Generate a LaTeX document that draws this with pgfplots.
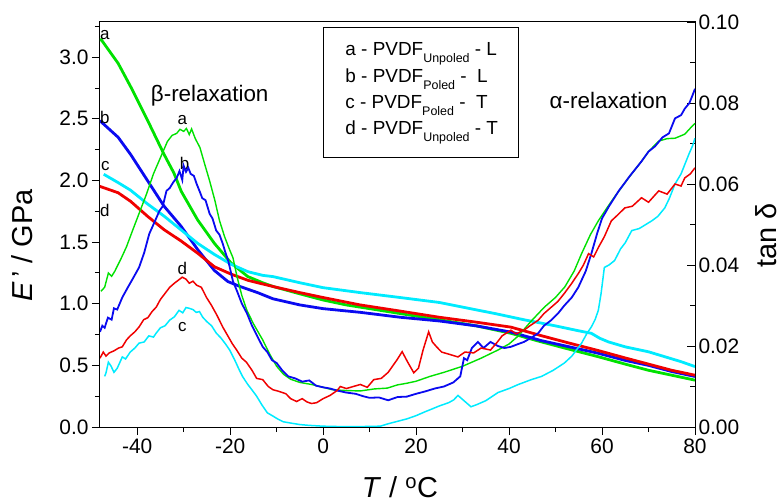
\documentclass[border=0pt]{standalone}
\usepackage{fontspec}
\setmainfont{Liberation Sans}
\usepackage{pgfplots}
\pgfplotsset{compat=1.18}
\definecolor{cA}{RGB}{0,225,0}
\definecolor{cB}{RGB}{10,10,240}
\definecolor{cC}{RGB}{0,235,255}
\definecolor{cD}{RGB}{240,0,0}
\newcommand\sub[1]{\raisebox{-7.5bp}{\fontsize{12.5}{12.5}\selectfont #1}}
\begin{document}
\begin{tikzpicture}
\begin{axis}[
 width=595bp, height=405bp, scale only axis,
 xmin=-48, xmax=80, ymin=0, ymax=3.285,
 xtick={-40,-20,0,20,40,60,80}, minor xtick={-30,-10,10,30,50,70},
 ytick={0,0.5,1,1.5,2,2.5,3}, minor ytick={0.25,0.75,1.25,1.75,2.25,2.75,3.25},
 tick align=outside, xtick pos=bottom, ytick pos=left,
 major tick length=8bp, minor tick length=5bp,
 every tick/.style={black, line width=0.9bp},
 axis line style={line width=1bp},
 ticklabel style={font=\fontsize{21}{24}\selectfont},
 /pgf/number format/assume math mode=true,
 yticklabel style={/pgf/number format/.cd, fixed, fixed zerofill, precision=1},
 xlabel={\textit{T} / \textsuperscript{o}C},
 ylabel={\textit{E}\,' / GPa},
 label style={font=\fontsize{29}{32}\selectfont},
 xlabel style={at={(axis description cs:0.504,-0.148)}, anchor=center},
 ylabel style={at={(axis description cs:-0.131,0.448)}, anchor=center},
]
\coordinate (SW) at (rel axis cs:0,0);
\coordinate (NE) at (rel axis cs:1,1);
% storage modulus curves (thick)
\addplot[cA, line width=2.8bp] table {
-48 3.14
-47.7 3.14
-44.1 2.95
-41.4 2.76
-37.8 2.49
-34.2 2.21
-32.1 2.06
-30.5 1.91
-27.0 1.68
-23.4 1.49
-19.8 1.33
-16.2 1.22
-13 1.17
-10.8 1.14
-5 1.08
0 1.03
5 0.99
10 0.96
16.6 0.92
25 0.87
33 0.82
40.4 0.76
46 0.70
52 0.64
59.2 0.57
65 0.51
70 0.46
75 0.42
80 0.38
};
\addplot[cB, line width=2.8bp] table {
-48 2.48
-47.9 2.48
-44.1 2.35
-41.4 2.21
-37.8 2.00
-34.2 1.79
-30.6 1.63
-27.0 1.44
-23.4 1.27
-20.5 1.18
-17.9 1.14
-14.1 1.09
-10.8 1.04
-5 0.99
0 0.96
8 0.93
16.6 0.89
25 0.86
33 0.82
40.4 0.77
47 0.70
53 0.65
59 0.60
65 0.54
70 0.50
75 0.45
80 0.41
};
\addplot[cC, line width=2.8bp] table {
-47.2 2.05
-44 1.98
-41.4 1.92
-37.8 1.81
-34.2 1.71
-30.6 1.60
-27.0 1.49
-23.4 1.40
-19.8 1.32
-16.2 1.26
-13 1.23
-10.8 1.22
-5 1.17
0 1.13
8 1.09
16.6 1.05
25 1.01
30.3 0.97
37 0.92
43.2 0.87
50 0.82
55 0.78
57.7 0.76
59.5 0.72
61.4 0.69
65 0.65
70 0.61
73.5 0.57
77 0.53
80 0.49
};
\addplot[cD, line width=2.8bp] table {
-48 1.95
-47.9 1.95
-44.1 1.90
-41.4 1.83
-37.8 1.71
-34.2 1.60
-30.6 1.51
-27.0 1.41
-23.4 1.30
-19.8 1.24
-16.2 1.19
-13 1.16
-9.7 1.13
-5 1.09
0 1.05
8 0.99
16.6 0.94
25 0.89
33 0.85
40.4 0.81
47 0.74
53 0.68
59.2 0.62
65 0.56
70 0.51
75 0.46
80 0.42
};
% annotations
\node[anchor=west, font=\fontsize{17}{19}\selectfont, inner sep=0pt] at (axis cs:-48,3.18) {a};
\node[anchor=west, font=\fontsize{17}{19}\selectfont, inner sep=0pt] at (axis cs:-48,2.51) {b};
\node[anchor=west, font=\fontsize{17}{19}\selectfont, inner sep=0pt] at (axis cs:-47.8,2.12) {c};
\node[anchor=west, font=\fontsize{17}{19}\selectfont, inner sep=0pt] at (axis cs:-48,1.76) {d};
\node[font=\fontsize{17}{19}\selectfont, inner sep=0pt] at (axis cs:-30.3,2.49) {a};
\node[font=\fontsize{17}{19}\selectfont, inner sep=0pt] at (axis cs:-29.8,2.14) {b};
\node[font=\fontsize{17}{19}\selectfont, inner sep=0pt] at (axis cs:-30.3,1.29) {d};
\node[font=\fontsize{17}{19}\selectfont, inner sep=0pt] at (axis cs:-30.3,0.81) {c};
\node[font=\fontsize{22.5}{24}\selectfont, inner sep=0pt] at (axis cs:-24.4,2.69) {β-relaxation};
\node[font=\fontsize{22.5}{24}\selectfont, inner sep=0pt] at (axis cs:61.4,2.65) {α-relaxation};
% legend box
\draw[line width=0.8bp, fill=white] (axis cs:0,3.244) rectangle (axis cs:41.95,2.19);
\node[anchor=base west, font=\fontsize{19}{21}\selectfont, inner sep=0pt] at (axis cs:4.76,3.017) {a - PVDF\sub{Unpoled} - L};
\node[anchor=base west, font=\fontsize{19}{21}\selectfont, inner sep=0pt] at (axis cs:4.76,2.798) {b - PVDF\sub{Poled} -\hspace{0.55em}L};
\node[anchor=base west, font=\fontsize{19}{21}\selectfont, inner sep=0pt] at (axis cs:4.76,2.587) {c - PVDF\sub{Poled} -\hspace{0.55em}T};
\node[anchor=base west, font=\fontsize{19}{21}\selectfont, inner sep=0pt] at (axis cs:4.76,2.376) {d - PVDF\sub{Unpoled} - T};
\end{axis}
\begin{axis}[
 width=595bp, height=405bp, scale only axis,
 xmin=-48, xmax=80, ymin=0, ymax=0.10,
 hide x axis, axis y line*=right,
 ytick={0,0.02,0.04,0.06,0.08,0.1}, minor ytick={0.01,0.03,0.05,0.07,0.09},
 ytick align=inside,
 major tick length=8bp, minor tick length=5bp,
 every tick/.style={black, line width=0.9bp},
 axis line style={line width=1bp},
 ticklabel style={font=\fontsize{21}{24}\selectfont},
 /pgf/number format/assume math mode=true,
 yticklabel style={/pgf/number format/.cd, fixed, fixed zerofill, precision=2},
 ylabel={tan δ},
 label style={font=\fontsize{29}{32}\selectfont},
 ylabel style={at={(axis description cs:1.119,0.473)}, anchor=center},
]
% tan delta curves (thin)
\addplot[cA, line width=1.4bp] table {
-47.8 0.0335
-47 0.0345
-46.2 0.0380
-45.5 0.0372
-44.8 0.0385
-43.5 0.0415
-42.3 0.0445
-41 0.0485
-39.5 0.0530
-38 0.0575
-36.5 0.0625
-35 0.0665
-33.5 0.0705
-32.5 0.0720
-31.5 0.0725
-30.8 0.0735
-30 0.0730
-29.4 0.0737
-28.8 0.0722
-28.3 0.0736
-27.5 0.0712
-26.5 0.0690
-25.5 0.0650
-24.4 0.0607
-23.3 0.0560
-22.3 0.0510
-21.2 0.0470
-20.2 0.0440
-19.4 0.0418
-18.5 0.0370
-17.5 0.0325
-16.4 0.0288
-15 0.0255
-13 0.0215
-11.5 0.0180
-10 0.0150
-8.5 0.0130
-7 0.0118
-5 0.0110
-2.5 0.0105
0 0.0098
2 0.0092
5 0.0090
8 0.0089
11 0.0094
13.8 0.0096
16 0.0104
18 0.0108
20 0.0113
23 0.0125
26 0.0135
30 0.0150
34 0.0170
37.6 0.0190
40 0.0205
42 0.0225
44.8 0.0262
47.6 0.0296
50 0.0320
52 0.0346
54 0.0385
55.6 0.0428
57.5 0.0475
59.2 0.0509
61 0.0540
62.5 0.0565
65.7 0.0615
68.5 0.0656
70 0.0680
72.2 0.0706
74 0.0712
75.7 0.0713
77.8 0.0723
79 0.0738
80 0.0750
};
\addplot[cB, line width=1.8bp] table {
-48 0.0235
-47.5 0.0250
-47 0.0245
-46.3 0.0270
-45.5 0.0265
-45 0.0293
-44.3 0.0290
-43.2 0.0320
-42 0.0345
-41 0.0365
-39.6 0.0394
-38.5 0.0430
-37.4 0.0477
-36.5 0.0500
-35.2 0.0534
-34.5 0.0545
-33.7 0.0583
-33 0.0590
-32.2 0.0605
-31.5 0.0615
-30.9 0.0632
-30.3 0.0610
-30 0.0645
-29.5 0.0630
-29 0.0640
-28.5 0.0625
-27.8 0.0620
-27.2 0.0600
-26.6 0.0583
-26 0.0565
-25.3 0.0560
-24.4 0.0526
-23.8 0.0515
-23 0.0485
-22.3 0.0475
-21.6 0.0453
-21 0.0430
-20.4 0.0410
-19.4 0.0360
-18.5 0.0335
-17.5 0.0305
-16.4 0.0281
-15.3 0.0250
-14.2 0.0225
-13 0.0198
-12 0.0185
-11 0.0165
-10 0.0158
-8.8 0.0140
-7.5 0.0125
-6 0.0120
-4.5 0.0112
-3 0.0115
-1.5 0.0102
0 0.0098
1.5 0.0095
3 0.0090
5 0.0085
7 0.0082
8.6 0.0076
10 0.0072
12 0.0073
14 0.0066
16 0.0074
18 0.0075
20 0.0082
22 0.0088
24 0.0095
26 0.0100
28 0.0110
29.5 0.0125
30.3 0.0170
31 0.0165
32 0.0195
33.3 0.0210
34.5 0.0195
36 0.0210
37.6 0.0200
39 0.0195
40.4 0.0198
42 0.0205
43.2 0.0210
45 0.0222
46.3 0.0232
47.5 0.0250
49.1 0.0264
50.5 0.0280
51.9 0.0300
53.5 0.0320
54.9 0.0345
56.5 0.0385
57.7 0.0428
59 0.0480
60 0.0515
61.5 0.0545
63.6 0.0583
66 0.0620
68.5 0.0656
70 0.0680
71.4 0.0693
73 0.0715
74.4 0.0725
75.7 0.0762
77 0.0770
77.8 0.0786
78.8 0.0800
79.5 0.0820
80 0.0835
};
\addplot[cC, line width=1.5bp] table {
-47 0.0125
-46.7 0.0134
-46.2 0.0160
-45.6 0.0150
-45 0.0135
-44.3 0.0145
-43.2 0.0173
-42.5 0.0168
-41.5 0.0185
-40.5 0.0195
-39.6 0.0207
-38.5 0.0210
-37.5 0.0225
-36.5 0.0222
-35.9 0.0232
-35 0.0245
-34 0.0250
-33 0.0264
-32 0.0272
-31 0.0288
-30.2 0.0282
-29.5 0.0295
-28.8 0.0293
-28 0.0290
-27.3 0.0283
-26.6 0.0285
-25.9 0.0271
-25 0.0260
-24 0.0250
-23 0.0232
-22 0.0220
-21 0.0205
-20.1 0.0190
-19 0.0165
-18 0.0140
-17.3 0.0124
-16.2 0.0105
-15.2 0.0090
-14.3 0.0076
-13.2 0.0055
-12 0.0035
-10.8 0.0027
-9.8 0.0020
-8.6 0.0013
-7.1 0.0010
-5 0.0006
-3 0.0004
0 0.0002
3.7 0.0001
8 0.0001
12.3 0.0002
14 0.0008
16 0.0014
18 0.0020
20 0.0028
22 0.0038
23.1 0.0043
25 0.0052
27 0.0060
28.1 0.0067
29 0.0078
30 0.0068
31.8 0.0050
33 0.0055
35 0.0065
37.6 0.0085
40 0.0095
42 0.0105
44.8 0.0117
47 0.0125
49.5 0.0140
51.9 0.0158
53.5 0.0175
55.6 0.0207
56.8 0.0232
57.7 0.0247
58.5 0.0265
59.2 0.0288
59.8 0.0330
60.5 0.0394
61.5 0.0400
62.7 0.0411
64 0.0440
65 0.0455
66.4 0.0485
68 0.0490
70.7 0.0509
72 0.0520
73.5 0.0541
74.5 0.0565
75.7 0.0600
77 0.0625
78.7 0.0674
79.5 0.0695
80 0.0713
};
\addplot[cD, line width=1.5bp] table {
-48 0.0170
-47.3 0.0185
-46.7 0.0175
-46 0.0183
-45 0.0188
-44 0.0195
-43.2 0.0198
-42.3 0.0215
-41.5 0.0225
-40.5 0.0235
-39.6 0.0247
-38.6 0.0265
-37.7 0.0270
-36.8 0.0285
-35.9 0.0296
-35 0.0315
-34 0.0330
-33 0.0345
-32 0.0355
-31.2 0.0362
-30.3 0.0370
-29.5 0.0365
-28.8 0.0355
-28 0.0360
-27.2 0.0350
-26.2 0.0345
-25.1 0.0320
-24 0.0300
-22.8 0.0275
-21.6 0.0247
-20.5 0.0225
-19.5 0.0205
-18.6 0.0190
-17.5 0.0170
-16.5 0.0160
-15.3 0.0140
-14.3 0.0120
-13 0.0117
-11.8 0.0100
-10.8 0.0092
-9.5 0.0088
-8 0.0082
-7 0.0070
-5.7 0.0063
-4.5 0.0070
-3.5 0.0062
-2.5 0.0058
-1.4 0.0060
0 0.0070
1.5 0.0078
3 0.0090
3.7 0.0100
5 0.0095
6.5 0.0100
8 0.0105
9.5 0.0098
10.9 0.0117
12.5 0.0120
14 0.0135
15.9 0.0166
17 0.0186
18.2 0.0160
19.5 0.0134
20.5 0.0145
21.5 0.0190
22.7 0.0235
23.5 0.0210
24.4 0.0198
25.5 0.0185
27 0.0180
29 0.0173
30.5 0.0185
32.4 0.0183
34 0.0195
36 0.0190
37.5 0.0210
38.5 0.0225
40.4 0.0239
41.5 0.0230
43.2 0.0239
44.5 0.0250
46.3 0.0264
47.5 0.0280
49.1 0.0296
50.5 0.0310
51.9 0.0330
53.5 0.0355
54.9 0.0379
56 0.0400
57.1 0.0428
58.2 0.0420
59.2 0.0443
60.5 0.0470
62 0.0509
63.5 0.0525
64.9 0.0541
66.5 0.0545
68.5 0.0566
70 0.0555
72.2 0.0583
74 0.0575
75.7 0.0600
77 0.0595
77.8 0.0615
79 0.0625
80 0.0640
};
\end{axis}
\pgfresetboundingbox
\path ([shift={(-100bp,-75bp)}]SW) rectangle ([shift={(89bp,22bp)}]NE);
\end{tikzpicture}
\end{document}
